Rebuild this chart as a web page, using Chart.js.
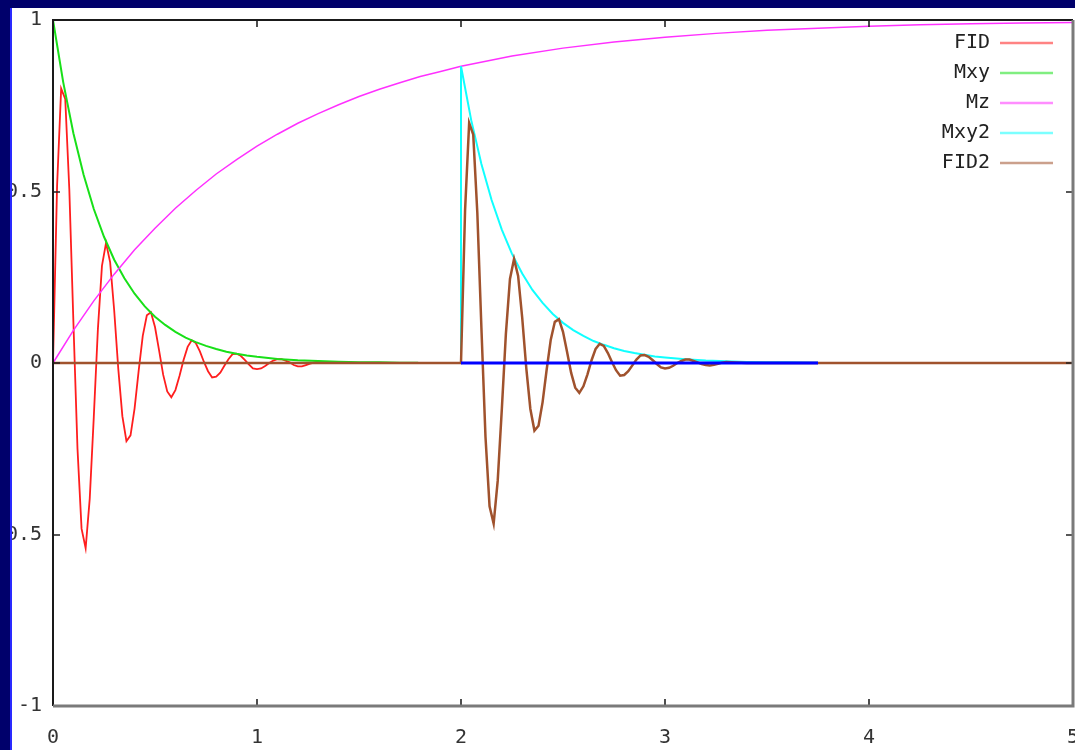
<!DOCTYPE html>
<html>
<head>
<meta charset="utf-8">
<script src="https://cdn.jsdelivr.net/npm/chart.js@4.4.1/dist/chart.umd.min.js"></script>
<style>
  html, body { margin: 0; padding: 0; }
  body { width: 1075px; height: 750px; background: #00006b; position: relative; overflow: hidden; }
  #bar { position: absolute; left: 10px; top: 8px; width: 2px; height: 742px; background: #2a2aff; }
  #wrap { position: absolute; left: 12px; top: 8px; width: 1063px; height: 742px; background: #ffffff; }
  canvas { display: block; }
</style>
</head>
<body>
<div id="bar"></div>
<div id="wrap"><canvas id="c" width="1063" height="742"></canvas></div>
<script>
// ---- data ----
const seriesNames = ["FID", "Mxy", "Mz", "Mxy2", "FID2"];

const fidT = [0,0.02,0.04,0.06,0.08,0.1,0.12,0.14,0.16,0.18,0.2,0.22,0.24,0.26,0.28,0.3,0.32,0.34,0.36,0.38,0.4,0.42,0.44,0.46,0.48,0.5,0.52,0.54,0.56,0.58,0.6,0.62,0.64,0.66,0.68,0.7,0.72,0.74,0.76,0.78,0.8,0.82,0.84,0.86,0.88,0.9,0.92,0.94,0.96,0.98,1.0,1.02,1.04,1.06,1.08,1.1,1.12,1.14,1.16,1.18,1.2,1.22,1.24,1.26,1.28,1.3,1.4];
const fidV = [0,0.516,0.800,0.770,0.506,0.119,-0.249,-0.483,-0.540,-0.396,-0.157,0.098,0.283,0.350,0.294,0.153,-0.017,-0.155,-0.228,-0.211,-0.132,-0.022,0.079,0.139,0.148,0.105,0.037,-0.034,-0.083,-0.100,-0.079,-0.038,0.009,0.047,0.066,0.058,0.034,0.003,-0.024,-0.042,-0.040,-0.028,-0.008,0.011,0.026,0.027,0.021,0.009,-0.004,-0.016,-0.018,-0.016,-0.009,0.000,0.007,0.011,0.011,0.007,0.002,-0.006,-0.010,-0.010,-0.006,-0.002,0.001,0.004,0];

const mxyT = [0,0.05,0.1,0.15,0.2,0.25,0.3,0.35,0.4,0.45,0.5,0.55,0.6,0.65,0.7,0.75,0.8,0.85,0.9,0.95,1.0,1.1,1.2,1.3,1.4,1.5,1.6,1.7,1.79];
const mxyV = [1,0.819,0.670,0.549,0.449,0.368,0.301,0.247,0.202,0.165,0.135,0.111,0.091,0.074,0.061,0.050,0.041,0.033,0.027,0.022,0.018,0.012,0.008,0.006,0.004,0.002,0.002,0.001,0.001];

const mzT = [0,0.1,0.2,0.3,0.4,0.5,0.6,0.7,0.8,0.9,1.0,1.1,1.2,1.3,1.4,1.5,1.6,1.7,1.8,1.9,2.0,2.25,2.5,2.75,3,3.25,3.5,3.75,4,4.25,4.5,4.75,5];
const mzV = [0,0.095,0.181,0.259,0.330,0.393,0.451,0.503,0.551,0.593,0.632,0.667,0.699,0.727,0.753,0.777,0.798,0.817,0.835,0.850,0.865,0.895,0.918,0.936,0.950,0.961,0.970,0.976,0.982,0.986,0.989,0.991,0.993];

const mxy2T = [2,2,2.05,2.1,2.15,2.2,2.25,2.3,2.35,2.4,2.45,2.5,2.55,2.6,2.65,2.7,2.75,2.8,2.85,2.9,2.95,3.0,3.1,3.2,3.3,3.4,3.5,3.6,3.75];
const mxy2V = [0,0.865,0.708,0.580,0.475,0.389,0.318,0.261,0.213,0.175,0.143,0.117,0.096,0.079,0.064,0.053,0.043,0.035,0.029,0.024,0.019,0.016,0.011,0.007,0.005,0.003,0.002,0.002,0.001];

const fid2T = [0,2,2.02,2.04,2.06,2.08,2.1,2.12,2.14,2.16,2.18,2.2,2.22,2.24,2.26,2.28,2.3,2.32,2.34,2.36,2.38,2.4,2.42,2.44,2.46,2.48,2.5,2.52,2.54,2.56,2.58,2.6,2.62,2.64,2.66,2.68,2.7,2.72,2.74,2.76,2.78,2.8,2.82,2.84,2.86,2.88,2.9,2.92,2.94,2.96,2.98,3.0,3.02,3.04,3.06,3.08,3.1,3.12,3.14,3.16,3.18,3.2,3.22,3.24,3.26,3.28,3.3,3.4,5];
const fid2V = [0,0,0.446,0.700,0.666,0.438,0.103,-0.215,-0.418,-0.468,-0.343,-0.136,0.085,0.245,0.303,0.254,0.132,-0.015,-0.134,-0.197,-0.183,-0.114,-0.019,0.068,0.120,0.128,0.091,0.032,-0.029,-0.072,-0.087,-0.068,-0.033,0.008,0.041,0.056,0.050,0.029,0.003,-0.021,-0.037,-0.035,-0.024,-0.007,0.010,0.022,0.023,0.018,0.008,-0.003,-0.013,-0.016,-0.014,-0.008,0,0.006,0.010,0.010,0.006,0.002,-0.003,-0.006,-0.007,-0.005,-0.002,0.001,0.003,0,0];

const baseT = [2, 3.75];
const baseV = [0, 0];

const xTicks = [0, 1, 2, 3, 4, 5];
const yTicks = [-1, -0.5, 0, 0.5, 1];

const colors = ["#ff1e1e", "#18e018", "#ff30ff", "#10ffff", "#a0522d", "#0000ff"];

// ---- build ----
const pts = (xs, ys) => xs.map((x, i) => ({ x: x, y: ys[i] }));

const tickFont = { family: "DejaVu Sans Mono", size: 20 };

const framePlugin = {
  id: "frame",
  afterDraw(chart) {
    const ctx = chart.ctx, a = chart.chartArea;
    const xs = chart.scales.x, ys = chart.scales.y;
    ctx.save();
    ctx.strokeStyle = "#222";
    ctx.lineWidth = 1.6;
    const L = 7;
    xTicks.forEach(v => {
      const px = Math.round(xs.getPixelForValue(v));
      ctx.beginPath();
      ctx.moveTo(px, a.bottom); ctx.lineTo(px, a.bottom - L);
      ctx.moveTo(px, a.top); ctx.lineTo(px, a.top + L);
      ctx.stroke();
    });
    yTicks.forEach(v => {
      const py = Math.round(ys.getPixelForValue(v));
      ctx.beginPath();
      ctx.moveTo(a.left, py); ctx.lineTo(a.left + L, py);
      ctx.moveTo(a.right, py); ctx.lineTo(a.right - L, py);
      ctx.stroke();
    });
    ctx.lineWidth = 2;
    ctx.strokeStyle = "#1a1a1a";
    ctx.beginPath();
    ctx.moveTo(a.left, a.bottom); ctx.lineTo(a.left, a.top); ctx.lineTo(a.right, a.top);
    ctx.stroke();
    ctx.lineWidth = 3;
    ctx.strokeStyle = "#7a7a7a";
    ctx.beginPath();
    ctx.moveTo(a.left, a.bottom); ctx.lineTo(a.right, a.bottom); ctx.lineTo(a.right, a.top);
    ctx.stroke();
    // key
    ctx.font = "20px 'DejaVu Sans Mono'";
    ctx.textAlign = "right";
    ctx.textBaseline = "middle";
    seriesNames.forEach((name, i) => {
      const y = 35 + i * 30;
      ctx.fillStyle = "#222";
      ctx.fillText(name, 978, y);
      ctx.globalAlpha = 0.55;
      ctx.strokeStyle = colors[i];
      ctx.lineWidth = 2.5;
      ctx.beginPath();
      ctx.moveTo(988, y); ctx.lineTo(1041, y);
      ctx.stroke();
      ctx.globalAlpha = 1;
    });
    ctx.restore();
  }
};

const mk = (label, data, color, width, order) => ({
  label: label, data: data, borderColor: color, backgroundColor: color,
  borderWidth: width, pointRadius: 0, tension: 0, fill: false, order: order
});

new Chart(document.getElementById("c"), {
  type: "line",
  data: {
    datasets: [
      mk(seriesNames[0], pts(fidT, fidV), colors[0], 1.8, 6),
      mk(seriesNames[1], pts(mxyT, mxyV), colors[1], 2, 5),
      mk(seriesNames[2], pts(mzT, mzV), colors[2], 1.5, 4),
      mk(seriesNames[3], pts(mxy2T, mxy2V), colors[3], 2, 3),
      mk(seriesNames[4], pts(fid2T, fid2V), colors[4], 2.5, 2),
      mk("", pts(baseT, baseV), colors[5], 3, 1)
    ]
  },
  options: {
    responsive: false,
    animation: false,
    layout: { padding: { top: 12, right: 2, left: 0, bottom: 0 }, autoPadding: false },
    plugins: { legend: { display: false }, tooltip: { enabled: false } },
    scales: {
      x: {
        type: "linear", min: 0, max: 5,
        afterBuildTicks(s) { s.ticks = xTicks.map(v => ({ value: v })); },
        ticks: { color: "#333", font: tickFont, padding: 20, maxRotation: 0, autoSkip: false, callback: v => String(v) },
        grid: { display: false, drawTicks: false },
        border: { display: false },
        afterFit(s) { s.height = 44; s.paddingLeft = 0; s.paddingRight = 0; s.paddingTop = 0; s.paddingBottom = 0; }
      },
      y: {
        type: "linear", min: -1, max: 1,
        afterBuildTicks(s) { s.ticks = yTicks.map(v => ({ value: v })); },
        ticks: { color: "#333", font: tickFont, padding: 11, autoSkip: false, callback: v => String(v) },
        grid: { display: false, drawTicks: false },
        border: { display: false },
        afterFit(s) { s.width = 41; s.paddingLeft = 0; s.paddingRight = 0; s.paddingTop = 0; s.paddingBottom = 0; }
      }
    }
  },
  plugins: [framePlugin]
});
</script>
</body>
</html>
